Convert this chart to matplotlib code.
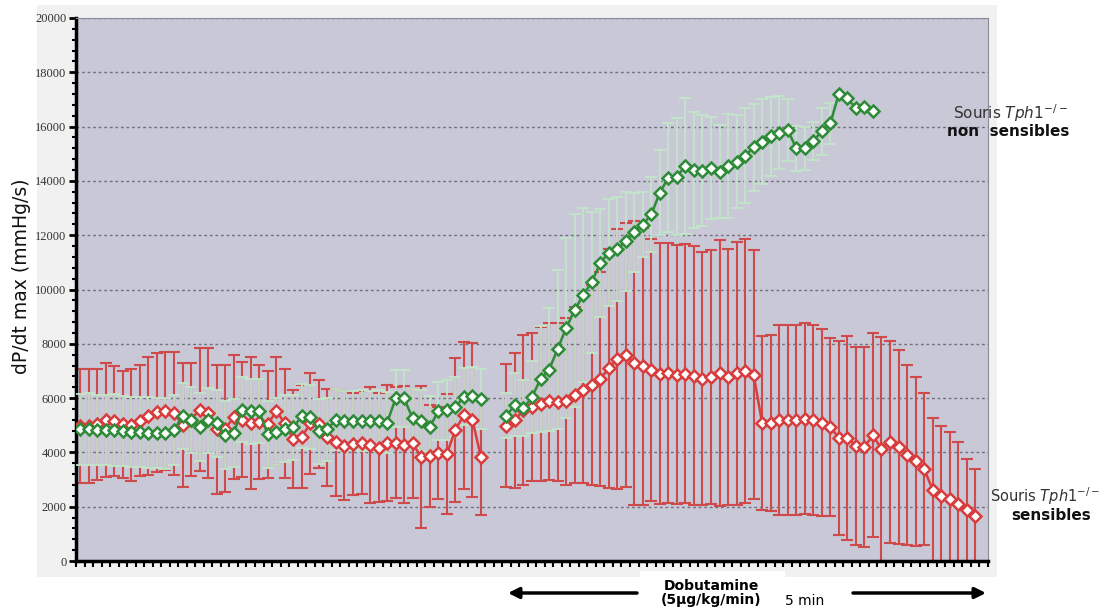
import numpy as np
import matplotlib.pyplot as plt
from matplotlib.patches import Rectangle
from matplotlib.ticker import MultipleLocator, FixedLocator, NullFormatter

# dP/dt max per time point (mmHg/s): mean and SD for both groups.
# None = no measurement (gap before the dobutamine infusion / end of recording)
red_mean = [4970, 4980, 5030, 5190, 5150, 5040, 5010, 5170, 5340, 5470,
            5520, 5440, 5010, 5210, 5580, 5460, 4850, 4870, 5290, 5210,
            5090, 5130, 5030, 5520, 5070, 4490, 4580, 5070, 5060,
            4550, 4370, 4250, 4310, 4360, 4270, 4180, 4360, 4360, 4290,
            4330, 3820, 3870, 3990, 3940, 4820, 5370, 5210, 3840,
            None, None,
            4980, 5180, 5570, 5670, 5780, 5880, 5840, 5880, 6120, 6310,
            6490, 6700, 7100, 7440, 7580,
            7290, 7170, 7040, 6900, 6920, 6860, 6900, 6830, 6710, 6770,
            6920, 6760, 6920, 7000, 6860,
            5080, 5080, 5200, 5200, 5200, 5240, 5180, 5100, 4930, 4530,
            4530, 4250, 4200, 4630,
            4120, 4400, 4200, 3910, 3670, 3390, 2630, 2400, 2280, 2110,
            1870, 1670,
            None]
red_sd = [2085, 2100, 2055, 2090, 2025, 1970, 2045, 2055, 2190, 2175,
          2165, 2255, 2270, 2080, 2255, 2385, 2365, 2345, 2280, 2105,
          2425, 2105, 1965, 2000, 2000, 1800, 1900, 1850, 1620,
          1790, 1970, 2000, 1880, 1890, 2150, 2000, 2140, 2050, 2170,
          2020, 2620, 1870, 1690, 2210, 2650, 2700, 2835, 2150,
          None, None,
          2260, 2490, 2760, 2740, 2850, 2890, 2910, 3070, 3250, 3440,
          3680, 3930, 4410, 4790, 4870,
          5220, 5100, 4815, 4815, 4800, 4775, 4765, 4765, 4665, 4685,
          4910, 4715, 4840, 4850, 4590,
          3210, 3250, 3500, 3500, 3500, 3520, 3500, 3440, 3280, 3560,
          3740, 3650, 3700, 3760,
          4130, 3720, 3580, 3320, 3100, 2790, 2630, 2560, 2460, 2260,
          1880, 1720,
          None]
green_mean = [4850, 4850, 4820, 4820, 4820, 4790, 4760, 4750, 4720, 4720,
              4700, 4820, 5340, 5190, 4945, 5190, 5070, 4640, 4720, 5580,
              5520, 5520, 4660, 4760, 4880, 4920, 5340, 5310, 4780,
              4850, 5210, 5170, 5170, 5170, 5170, 5170, 5090, 5990, 5990,
              5250, 5170, 4920, 5530, 5560, 5660, 6050, 6070, 5960,
              None, None,
              5350, 5755, 5630, 6040, 6700, 7040, 7800, 8580, 9230, 9800,
              10260, 10970, 11360, 11490, 11780,
              12100, 12380, 12770, 13570, 14120, 14160, 14550, 14400, 14380, 14470,
              14340, 14550, 14710, 14920, 15240,
              15450, 15640, 15780, 15880, 15200, 15200, 15480, 15820, 16120, 17200,
              17040, 16680, 16720, 16590,
              None, None, None, None, None, None, None, None, None, None,
              None, None, None]
green_sd = [1300, 1320, 1290, 1300, 1320, 1300, 1280, 1300, 1310, 1290,
            1300, 1280, 1200, 1220, 1250, 1200, 1230, 1260, 1240, 1180,
            1200, 1190, 1250, 1230, 1220, 1200, 1180, 1170, 1200,
            1150, 1120, 1100, 1100, 1110, 1100, 1120, 1130, 1050, 1060,
            1100, 1120, 1150, 1080, 1090, 1100, 1050, 1060, 1100,
            None, None,
            820, 1165, 1020, 1330, 1940, 2270, 2920, 3310, 3550, 3190,
            2600, 2000, 1960, 1900, 1820,
            1460, 1200, 1390, 1570, 2000, 2150, 2500, 2120, 2040, 1870,
            1720, 1900, 1720, 1750, 1600,
            1560, 1450, 1350, 1130, 830, 800, 700, 860, 750, None,
            None, None, None, None,
            None, None, None, None, None, None, None, None, None, None,
            None, None, None]

y_ticks = [0, 2000, 4000, 6000, 8000, 10000, 12000, 14000, 16000, 18000, 20000]


def arr(values):
    return np.array([np.nan if v is None else v for v in values], dtype=float)


W, H = 1107, 610


def fx(px):
    return px / W


def fy(py):
    return 1 - py / H


rm, rs = arr(red_mean), arr(red_sd)
gm, gs = arr(green_mean), arr(green_sd)
x = np.arange(len(rm))

fig = plt.figure(figsize=(W / 100, H / 100), dpi=100)
fig.patch.set_facecolor('white')

# light grey chart area behind the plot
fig.add_artist(Rectangle((fx(37), fy(577)), fx(960), 572 / H,
                         transform=fig.transFigure, facecolor='#f1f1f1',
                         edgecolor='none', zorder=-5))

ax = fig.add_axes([fx(76), fy(561), fx(912), 543 / H])
ax.set_facecolor('#c8c8d7')

RED = '#d83c3c'
RED_BAR = '#cf4a4a'
GREEN = '#2e8b37'
GREEN_BAR = '#c2e5c9'

ax.errorbar(x, rm, yerr=rs, fmt='none', ecolor=RED_BAR, elinewidth=1.5,
            capsize=4, capthick=1.5, zorder=2)
ax.errorbar(x, gm, yerr=gs, fmt='none', ecolor=GREEN_BAR, elinewidth=1.3,
            capsize=4, capthick=1.3, zorder=3)
ax.plot(x, rm, color=RED, lw=1.8, marker='D', ms=6, mfc='white',
        mec=RED, mew=1.8, zorder=4)
ax.plot(x, gm, color=GREEN, lw=1.8, marker='D', ms=6, mfc='white',
        mec=GREEN, mew=1.8, zorder=5)

ax.set_xlim(-0.5, len(x) - 0.5)
ax.set_ylim(0, 20000)

ax.set_yticks(y_ticks)
ax.set_yticklabels([str(v) for v in y_ticks], family='Liberation Serif',
                   fontsize=9, color='#333333')
ax.yaxis.set_minor_locator(MultipleLocator(400))
ax.xaxis.set_major_locator(FixedLocator([]))
ax.xaxis.set_minor_locator(FixedLocator(np.arange(-0.5, len(x), 1.0)))
ax.xaxis.set_minor_formatter(NullFormatter())
ax.tick_params(axis='y', which='major', length=5, width=2, pad=2)
ax.tick_params(axis='y', which='minor', length=3, width=1.5)
ax.tick_params(axis='x', which='minor', length=4, width=1.5, direction='out')

for v in y_ticks[1:]:
    ax.axhline(v, color='#70707c', lw=1, ls=(0, (2, 2)), zorder=1)

ax.spines['left'].set_linewidth(2.5)
ax.spines['bottom'].set_linewidth(2.5)
for s in ('top', 'right'):
    ax.spines[s].set_color('#8a8a98')
    ax.spines[s].set_linewidth(0.8)

fig.text(fx(22), fy(276), 'dP/dt max (mmHg/s)', rotation=90, fontsize=13.5,
         ha='center', va='center', color='#111111')

# group labels
fig.text(fx(953), fy(113), r'Souris $\mathit{Tph1}^{-/-}$', fontsize=11,
         color='#333333', ha='left', va='center')
fig.text(fx(947), fy(131), 'non  sensibles', fontsize=11, weight='bold',
         color='#111111', ha='left', va='center')
fig.text(fx(990), fy(496), r'Souris $\mathit{Tph1}^{-/-}$', fontsize=10.5,
         color='#333333', ha='left', va='center')
fig.text(fx(1051), fy(516), 'sensibles', fontsize=11, weight='bold',
         color='#111111', ha='center', va='center')

# infusion period below the axis
fig.add_artist(Rectangle((fx(640), 0), fx(145), 39 / H,
                         transform=fig.transFigure, facecolor='white',
                         edgecolor='none', zorder=1))
fig.text(fx(711), fy(586), 'Dobutamine', fontsize=10, weight='bold',
         ha='center', va='center', zorder=2)
fig.text(fx(711), fy(600), '(5µg/kg/min)', fontsize=10, weight='bold',
         ha='center', va='center', zorder=2)
fig.text(fx(805), fy(601), '5 min', fontsize=10, ha='center', va='center',
         zorder=2)
arrow = dict(arrowstyle='-|>', color='black', lw=2.5, mutation_scale=16,
             shrinkA=0, shrinkB=0)
fig.add_artist(plt.Annotation('', xy=(fx(508), fy(593)), xytext=(fx(637), fy(593)),
                              xycoords='figure fraction',
                              textcoords='figure fraction', arrowprops=arrow))
fig.add_artist(plt.Annotation('', xy=(fx(986), fy(593)), xytext=(fx(853), fy(593)),
                              xycoords='figure fraction',
                              textcoords='figure fraction', arrowprops=arrow))

fig.savefig('out.png', dpi=100)
